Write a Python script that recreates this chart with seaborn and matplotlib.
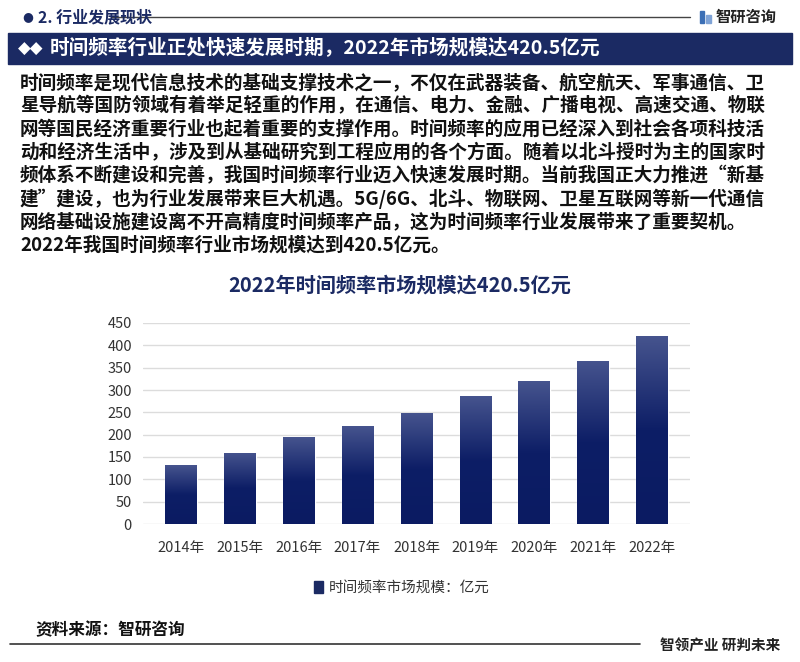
import numpy as np
import pandas as pd
import seaborn as sns
import matplotlib.pyplot as plt
from matplotlib.patches import Rectangle, Patch
from matplotlib.colors import LinearSegmentedColormap

years = ['2014年', '2015年', '2016年', '2017年', '2018年', '2019年', '2020年', '2021年', '2022年']
market_size = [132, 160, 194, 219, 248, 286, 320, 365, 420.5]
legend_label = '时间频率市场规模：亿元'
chart_title = '2022年时间频率市场规模达420.5亿元'
banner_title = '时间频率行业正处快速发展时期，2022年市场规模达420.5亿元'
section_title = '2. 行业发展现状'
body_lines = [
    '时间频率是现代信息技术的基础支撑技术之一，不仅在武器装备、航空航天、军事通信、卫',
    '星导航等国防领域有着举足轻重的作用，在通信、电力、金融、广播电视、高速交通、物联',
    '网等国民经济重要行业也起着重要的支撑作用。时间频率的应用已经深入到社会各项科技活',
    '动和经济生活中，涉及到从基础研究到工程应用的各个方面。随着以北斗授时为主的国家时',
    '频体系不断建设和完善，我国时间频率行业迈入快速发展时期。当前我国正大力推进“新基',
    '建”建设，也为行业发展带来巨大机遇。5G/6G、北斗、物联网、卫星互联网等新一代通信',
    '网络基础设施建设离不开高精度时间频率产品，这为时间频率行业发展带来了重要契机。',
    '2022年我国时间频率行业市场规模达到420.5亿元。',
]

sns.set_theme(style='white')
plt.rcParams['font.family'] = ['Noto Sans CJK SC', 'DejaVu Sans']

navy = '#1b2a63'
W, H = 800, 662
fig = plt.figure(figsize=(8, 6.62), dpi=100)
fig.patch.set_facecolor('white')


def fx(x):
    return x / W


def fy(y):
    return 1 - y / H


# header
fig.text(fx(22), fy(17), '●', fontsize=9, color=navy, va='center', ha='left',
         family=['DejaVu Sans'])
fig.text(fx(38), fy(17), section_title, fontsize=11.5, color=navy, va='center',
         ha='left', weight='bold')
fig.add_artist(plt.Line2D([fx(112), fx(690)], [fy(17), fy(17)], color='#444444', lw=1))
fig.add_artist(Rectangle((fx(700), fy(23)), 4 / W, 12 / H, color='#3c6fb5'))
fig.add_artist(Rectangle((fx(706), fy(23)), 5 / W, 8 / H, color='#7fa3d6'))
fig.text(fx(716), fy(17), '智研咨询', fontsize=11, color='#222222', va='center',
         ha='left', weight='bold')

# banner
fig.add_artist(Rectangle((fx(8), fy(64)), 784 / W, 31 / H, color=navy))
fig.text(fx(18), fy(48.5), '◆◆', fontsize=12, color='white', va='center', ha='left',
         family=['DejaVu Sans'])
fig.text(fx(50), fy(48.5), banner_title, fontsize=14.1, color='white', va='center',
         ha='left', weight='bold')

# body paragraph
for i, line in enumerate(body_lines):
    fig.text(fx(20), fy(83 + i * 23.2), line, fontsize=13.4, color='#111111',
             va='center', ha='left', weight='bold')

# chart title
fig.text(fx(400), fy(285), chart_title, fontsize=14.5, color=navy, va='center',
         ha='center', weight='bold')

# bar chart
ax = fig.add_axes([fx(143), fy(524), (690 - 143) / W, (524 - 323) / H])
ax.set_facecolor('none')
df = pd.DataFrame({'year': years, 'size': market_size})
sns.barplot(data=df, x='year', y='size', color=navy, width=0.54, ax=ax, zorder=2)

grad = np.linspace(0, 1, 256).reshape(-1, 1)
cmap = LinearSegmentedColormap.from_list('g', ['#0b1b62', '#0d1e66', '#46548e'])
for p in ax.patches:
    x0, y0 = p.get_x(), p.get_y()
    w, h = p.get_width(), p.get_height()
    im = ax.imshow(grad, extent=[x0, x0 + w, y0, y0 + h], origin='lower', cmap=cmap,
                   aspect='auto', zorder=3)
    im.set_clip_path(p)

ax.set_xlim(-0.64, 8.64)
ax.set_ylim(0, 450)
ax.set_yticks(range(0, 451, 50))
ax.yaxis.grid(True, color='#dcdcdc', lw=1)
ax.set_axisbelow(True)
for s in ax.spines.values():
    s.set_visible(False)
ax.set_xlabel('')
ax.set_ylabel('')
ax.tick_params(axis='y', length=0, pad=8, labelsize=10.5, labelcolor='#333333')
ax.tick_params(axis='x', length=0, pad=12, labelsize=10.5, labelcolor='#333333')

fig.legend(handles=[Patch(color=navy, label=legend_label)], loc='center',
           bbox_to_anchor=(fx(402), fy(588)), frameon=False, fontsize=10.5,
           handlelength=0.6, handleheight=0.9, handletextpad=0.4, labelcolor='#333333')

# footer
fig.text(fx(35), fy(630), '资料来源：智研咨询', fontsize=12, color='#111111',
         va='center', ha='left', weight='bold')
fig.add_artist(plt.Line2D([fx(10), fx(640)], [fy(644), fy(644)], color='#333333', lw=1.2))
fig.text(fx(780), fy(645), '智领产业 研判未来', fontsize=10.5, color='#222222',
         va='center', ha='right', weight='bold')

fig.savefig('out.png', dpi=100)
